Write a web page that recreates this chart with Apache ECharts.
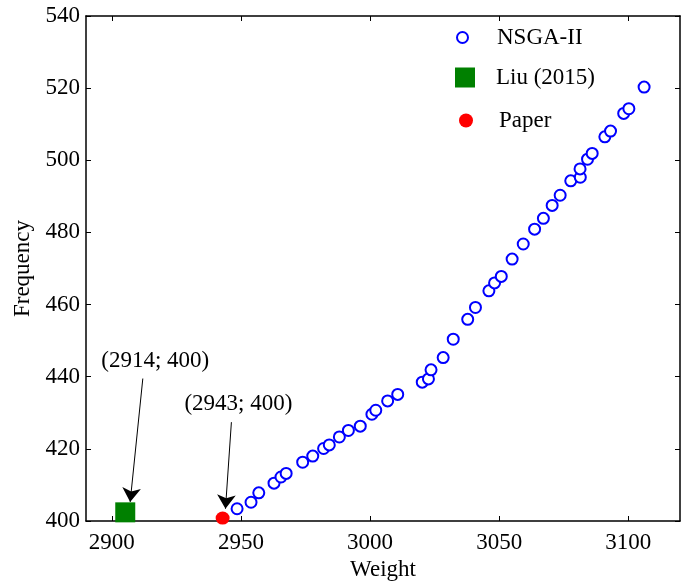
<!DOCTYPE html>
<html><head><meta charset="utf-8">
<script src="https://cdn.jsdelivr.net/npm/echarts@6/dist/echarts.min.js"></script>
<style>html,body{margin:0;padding:0;background:#fff}#c{width:691px;height:581px}</style>
</head><body><div id="c"></div>
<script>
// ---- data ----
const nsgaWeight = [2948.5,2953.9,2956.9,2962.8,2965.5,2967.5,2973.9,2977.8,2982.0,2984.2,
  2988.1,2991.6,2996.2,3000.7,3002.2,3006.8,3010.7,3020.2,3022.6,3023.6,
  3028.3,3032.2,3037.8,3040.8,3046.0,3048.2,3050.8,3055.0,3059.3,3063.7,
  3067.1,3070.5,3073.6,3077.7,3081.4,3081.3,3084.2,3086.0,3090.9,3093.1,
  3098.2,3100.2,3106.1];
const nsgaFreq = [403.4,405.2,407.8,410.5,412.2,413.2,416.3,418.0,420.1,421.1,
  423.3,425.1,426.3,429.6,430.7,433.3,435.1,438.5,439.4,441.9,
  445.3,450.4,455.9,459.2,463.8,466.0,467.8,472.6,476.8,480.9,
  483.9,487.5,490.3,494.3,495.3,497.6,500.3,501.9,506.5,508.1,
  513.0,514.3,520.3];
const liuPoint = [2905.2, 402.4];
const paperPoint = [2942.9, 400.8];
const seriesNames = ['NSGA-II', 'Liu (2015)', 'Paper'];
const xTicks = [2900, 2950, 3000, 3050, 3100];
const yTicks = [400, 420, 440, 460, 480, 500, 520, 540];
const annoLabels = ['(2914; 400)', '(2943; 400)'];
const annoTextPos = [[2916.8, 444.5], [2949.0, 432.4]];
const arrowStart = [[2912.0, 439.5], [2946.3, 427.4]];
const arrowEnd = [[2907.1, 405.3], [2944.0, 403.4]];

// ---- chart ----
const FONT = '"Liberation Serif", "Times New Roman", serif';
const chart = echarts.init(document.getElementById('c'));
const axisLine = {show: true, lineStyle: {color: '#000', width: 1.5}};
const tickStyle = {color: '#000', width: 1};

const nsgaData = nsgaWeight.map((w, i) => [w, nsgaFreq[i]]);

chart.setOption({
  animation: false,
  backgroundColor: '#fff',
  grid: {left: 86, right: 11, top: 16, bottom: 60, containLabel: false, outerBoundsMode: 'none'},
  xAxis: [{
    type: 'value', min: 2890, max: 3120, position: 'bottom',
    axisLine: axisLine,
    axisTick: {show: true, inside: true, length: 5, customValues: xTicks, lineStyle: tickStyle},
    axisLabel: {customValues: xTicks, formatter: v => String(v), color: '#000',
      fontSize: 23, fontFamily: FONT, margin: 10},
    splitLine: {show: false},
    name: 'Weight', nameLocation: 'middle', nameGap: 32,
    nameTextStyle: {color: '#000', fontSize: 23, fontFamily: FONT}
  }, {
    type: 'value', min: 2890, max: 3120, position: 'top',
    axisLine: axisLine,
    axisTick: {show: true, inside: true, length: 5, customValues: xTicks, lineStyle: tickStyle},
    axisLabel: {show: false}, splitLine: {show: false}
  }],
  yAxis: [{
    type: 'value', min: 400, max: 540, interval: 20, position: 'left',
    axisLine: axisLine,
    axisTick: {show: true, inside: true, length: 5, customValues: yTicks, lineStyle: tickStyle},
    axisLabel: {customValues: yTicks, formatter: v => String(v), color: '#000',
      fontSize: 23, fontFamily: FONT, margin: 6},
    splitLine: {show: false},
    name: 'Frequency', nameLocation: 'middle', nameGap: 48,
    nameTextStyle: {color: '#000', fontSize: 23, fontFamily: FONT}
  }, {
    type: 'value', min: 400, max: 540, interval: 20, position: 'right',
    axisLine: axisLine,
    axisTick: {show: true, inside: true, length: 5, lineStyle: tickStyle},
    axisLabel: {show: false}, splitLine: {show: false}
  }],
  legend: [{
    data: [{name: seriesNames[0], icon: 'circle',
      itemStyle: {color: '#fff', borderColor: '#0000ff', borderWidth: 2, opacity: 1}}],
    orient: 'vertical', left: 456, top: 26, padding: 0,
    itemWidth: 11, itemHeight: 11,
    textStyle: {color: '#000', fontSize: 23, fontFamily: FONT, padding: [0, 0, 0, 24]}
  }, {
    data: [{name: seriesNames[1], icon: 'rect', itemStyle: {color: '#008000', opacity: 1}}],
    orient: 'vertical', left: 455, top: 66, padding: 0,
    itemWidth: 20, itemHeight: 20,
    textStyle: {color: '#000', fontSize: 23, fontFamily: FONT, padding: [0, 0, 0, 16]}
  }, {
    data: [{name: seriesNames[2], icon: 'circle', itemStyle: {color: '#ff0000', opacity: 1}}],
    orient: 'vertical', left: 459, top: 109, padding: 0,
    itemWidth: 14, itemHeight: 14,
    textStyle: {color: '#000', fontSize: 23, fontFamily: FONT, padding: [0, 0, 0, 21]}
  }],
  series: [{
    name: seriesNames[0], type: 'scatter', data: nsgaData,
    symbol: 'circle', symbolSize: 11,
    itemStyle: {color: '#fff', borderColor: '#0000ff', borderWidth: 2, opacity: 1},
    z: 3
  }, {
    name: seriesNames[1], type: 'scatter', data: [liuPoint],
    symbol: 'rect', symbolSize: 20,
    itemStyle: {color: '#008000', opacity: 1}, z: 4
  }, {
    name: seriesNames[2], type: 'scatter', data: [paperPoint],
    symbol: 'circle', symbolSize: [14, 13],
    itemStyle: {color: '#ff0000', opacity: 1}, z: 4,
    markLine: {
      silent: true, animation: false,
      symbol: ['none', 'arrow'], symbolSize: 14,
      lineStyle: {color: '#000', width: 1, type: 'solid'},
      label: {show: false},
      emphasis: {disabled: true},
      data: arrowStart.map((s, i) => [{coord: s}, {coord: arrowEnd[i]}])
    },
    markPoint: {
      silent: true, animation: false,
      symbol: 'circle', symbolSize: 0,
      label: {show: true, position: 'inside', formatter: '{b}', color: '#000',
        fontSize: 23, fontFamily: FONT},
      data: annoTextPos.map((p, i) => ({name: annoLabels[i], coord: p}))
    }
  }]
});
</script>
</body></html>
